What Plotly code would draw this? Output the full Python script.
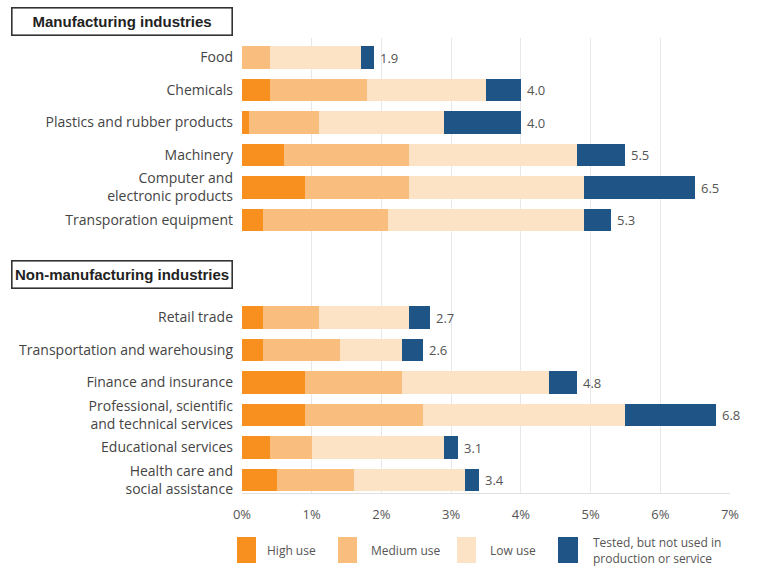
import plotly.graph_objects as go

# Share of firms using AI, by industry group and intensity of use (percent)
manuf_labels = ["Food", "Chemicals", "Plastics and rubber products", "Machinery",
                "Computer and<br>electronic products", "Transporation equipment"]
manuf_high = [0.0, 0.4, 0.1, 0.6, 0.9, 0.3]
manuf_medium = [0.4, 1.4, 1.0, 1.8, 1.5, 1.8]
manuf_low = [1.3, 1.7, 1.8, 2.4, 2.5, 2.8]
manuf_tested = [0.2, 0.5, 1.1, 0.7, 1.6, 0.4]

nonmanuf_labels = ["Retail trade", "Transportation and warehousing", "Finance and insurance",
                   "Professional, scientific<br>and technical services", "Educational services",
                   "Health care and<br>social assistance"]
nonmanuf_high = [0.3, 0.3, 0.9, 0.9, 0.4, 0.5]
nonmanuf_medium = [0.8, 1.1, 1.4, 1.7, 0.6, 1.1]
nonmanuf_low = [1.3, 0.9, 2.1, 2.9, 1.9, 1.6]
nonmanuf_tested = [0.3, 0.3, 0.4, 1.3, 0.2, 0.2]

x_ticks = [0, 1, 2, 3, 4, 5, 6, 7]
x_ticktext = ["0%", "1%", "2%", "3%", "4%", "5%", "6%", "7%"]

series_names = ["High use", "Medium use", "Low use", "Tested, but not used in<br>production or service"]
colors = ["#f7901e", "#f9bd7d", "#fde3c6", "#1e5586"]

# Row positions: manufacturing rows first, then a two-row gap for the second header
gap_rows = 2
manuf_pos = list(range(len(manuf_labels)))
nonmanuf_pos = [len(manuf_labels) + gap_rows + i for i in range(len(nonmanuf_labels))]
ypos = manuf_pos + nonmanuf_pos
labels = manuf_labels + nonmanuf_labels
series = [manuf_high + nonmanuf_high, manuf_medium + nonmanuf_medium,
          manuf_low + nonmanuf_low, manuf_tested + nonmanuf_tested]

W, H = 769, 576
ML, MR, MT, MB = 242, 39, 38, 83
plot_w = W - ML - MR
plot_h = H - MT - MB


def px_x(px):
    return (px - ML) / plot_w


def px_y(py):
    return (H - MB - py) / plot_h


fig = go.Figure()
for name, vals, col in zip(series_names, series, colors):
    fig.add_trace(go.Bar(
        x=vals, y=ypos, orientation="h", name=name,
        marker=dict(color=col, line=dict(width=0)),
        width=0.7, showlegend=False,
        hovertemplate="%{x:.1f}%<extra></extra>",
    ))

totals = [sum(v) for v in zip(*series)]
for yv, tot in zip(ypos, totals):
    fig.add_annotation(
        x=tot, y=yv, xref="x", yref="y", text=f"{tot:.1f}",
        showarrow=False, xanchor="left", yanchor="middle", xshift=4,
        font=dict(family="Open Sans", size=13, color="#555555"),
    )

# Group headers in framed boxes
header_font = dict(family="Liberation Sans", size=15, color="#222222")
for text, cy in [("<b>Manufacturing industries</b>", 22), ("<b>Non-manufacturing industries</b>", 274)]:
    fig.add_annotation(
        x=px_x(121.5), y=px_y(cy), xref="paper", yref="paper", text=text,
        showarrow=False, xanchor="center", yanchor="middle",
        width=215, height=22, borderpad=2, bordercolor="#333333", borderwidth=1.6,
        bgcolor="white", font=header_font,
    )

# Legend swatches and labels
legend_items = [(237, 256, 265), (338, 357, 369), (457, 476, 488), (558, 578, 591)]
for (x0, x1, tx), name, col in zip(legend_items, series_names, colors):
    fig.add_shape(type="rect", xref="paper", yref="paper",
                  x0=px_x(x0), x1=px_x(x1), y0=px_y(563), y1=px_y(537),
                  fillcolor=col, line=dict(width=0))
    fig.add_annotation(
        x=px_x(tx), y=px_y(550), xref="paper", yref="paper", text=name,
        showarrow=False, xanchor="left", yanchor="middle", align="left",
        font=dict(family="Open Sans", size=12, color="#555555"),
    )

fig.update_layout(
    width=W, height=H,
    margin=dict(l=ML, r=MR, t=MT, b=MB),
    barmode="stack", bargap=0.3,
    plot_bgcolor="white", paper_bgcolor="white",
    font=dict(family="Open Sans", size=14, color="#444444"),
    xaxis=dict(
        range=[0, 7], tickvals=x_ticks, ticktext=x_ticktext,
        showgrid=True, gridcolor="#e8e8e8", gridwidth=1,
        zeroline=False, showline=True, linecolor="#e0e0e0", linewidth=1,
        ticks="", ticklabelstandoff=9,
        tickfont=dict(family="Open Sans", size=13, color="#555555"),
        fixedrange=True,
    ),
    yaxis=dict(
        range=[13.4, -0.6], tickvals=ypos, ticktext=labels,
        showgrid=False, zeroline=False, showline=False, ticks="",
        ticklabelstandoff=8,
        tickfont=dict(family="Open Sans", size=14, color="#444444"),
        fixedrange=True,
    ),
)

fig.write_html("out.html")
